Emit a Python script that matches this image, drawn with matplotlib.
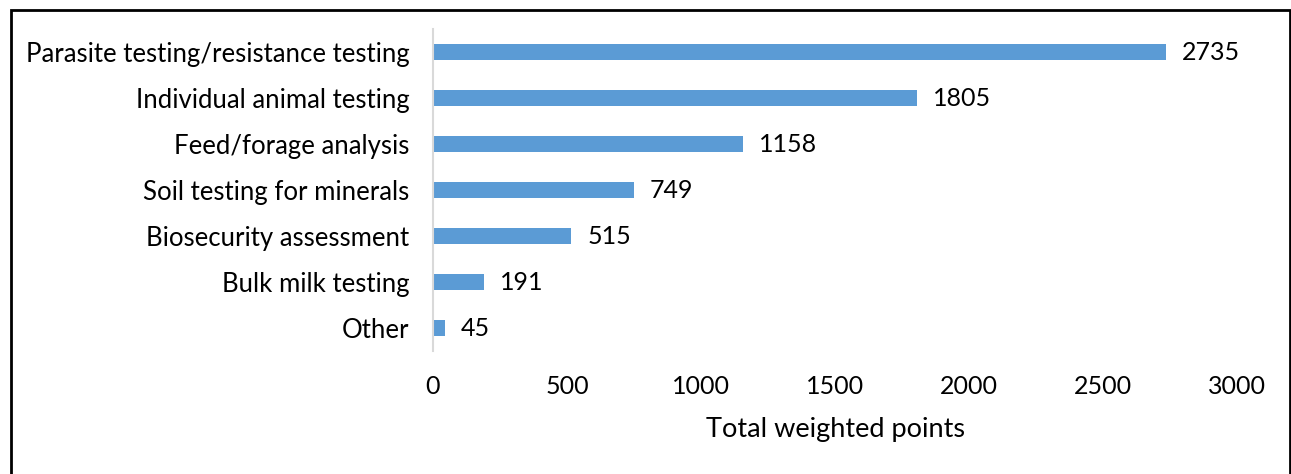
import matplotlib
matplotlib.use("Agg")
import matplotlib.pyplot as plt
from matplotlib.patches import Rectangle

plt.rcParams['font.family'] = ['Lato', 'DejaVu Sans']

categories = ["Parasite testing/resistance testing", "Individual animal testing",
              "Feed/forage analysis", "Soil testing for minerals",
              "Biosecurity assessment", "Bulk milk testing", "Other"]
points = [2735, 1805, 1158, 749, 515, 191, 45]
xticks = [0, 500, 1000, 1500, 2000, 2500, 3000]

W, H = 1291, 474
fig = plt.figure(figsize=(W / 100, H / 100), dpi=100)
# outer frame
fig.patches.append(Rectangle((11 / W, -0.05), (1290 - 11) / W, (H - 10) / H + 0.05,
                             transform=fig.transFigure, fill=False,
                             edgecolor="black", linewidth=2))

ax = fig.add_axes([433 / W, 1 - 351 / H, (1237 - 433) / W, (351 - 29) / H])
ypos = list(range(len(categories)))
ax.barh(ypos, points, height=0.35, color="#5B9BD5")
for y, v in zip(ypos, points):
    ax.text(v + 60, y, str(v), va="center", ha="left", fontsize=18, color="black")

ax.set_xlim(0, 3000)
ax.set_ylim(len(categories) - 0.5, -0.5)
ax.set_yticks(ypos)
ax.set_yticklabels(categories, fontsize=18.5)
ax.set_xticks(xticks)
ax.set_xticklabels([str(t) for t in xticks], fontsize=18)
ax.tick_params(axis="both", length=0)
ax.tick_params(axis="y", pad=17)
ax.tick_params(axis="x", pad=17)
ax.set_xlabel("Total weighted points", fontsize=19.5, labelpad=14)
for s in ["top", "right", "bottom"]:
    ax.spines[s].set_visible(False)
ax.spines["left"].set_color("#D9D9D9")
ax.spines["left"].set_linewidth(1.5)

fig.savefig("out.png", dpi=100)
